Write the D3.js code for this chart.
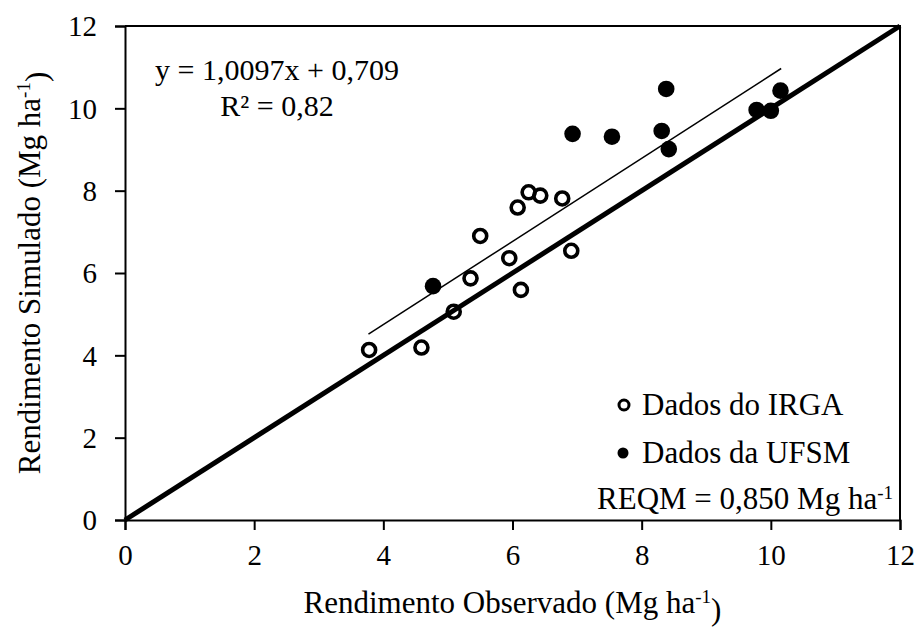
<!DOCTYPE html>
<html>
<head>
<meta charset="utf-8">
<script src="https://cdn.jsdelivr.net/npm/d3@7"></script>
<style>
  body { margin: 0; background: #fff; }
  text { font-family: "Liberation Serif", "Times New Roman", serif; fill: #000; }
</style>
</head>
<body>
<div id="vis"></div>
<script>
// observed vs simulated yield (Mg ha-1)
var irgaObs = [3.78, 4.59, 5.09, 5.35, 5.50, 5.95, 6.13, 6.08, 6.25, 6.43, 6.77, 6.91];
var irgaSim = [4.13, 4.19, 5.06, 5.87, 6.90, 6.36, 5.59, 7.59, 7.96, 7.88, 7.81, 6.54];
var ufsmObs = [4.77, 6.93, 7.54, 8.31, 8.38, 8.42, 9.78, 10.00, 10.15];
var ufsmSim = [5.68, 9.38, 9.31, 9.45, 10.47, 9.01, 9.96, 9.94, 10.43];

// linear fit shown on the chart
var slope = 1.0097, intercept = 0.709;
var fitRange = [3.77, 10.16];

var xTicks = [0, 2, 4, 6, 8, 10, 12];
var yTicks = [0, 2, 4, 6, 8, 10, 12];

var width = 918, height = 628;
var margin = { top: 26, left: 125, bottom: 108, right: 18 };
var w = width - margin.left - margin.right,
  h = height - margin.top - margin.bottom;

var svg = d3.select('#vis').append('svg')
  .attr('width', width)
  .attr('height', height);

var g = svg.append('g')
  .attr('transform', 'translate(' + margin.left + ',' + margin.top + ')');

var x = d3.scaleLinear().domain([0, 12]).range([0, w]);
var y = d3.scaleLinear().domain([0, 12]).range([h, 0]);

// frame (top + right)
g.append('path')
  .attr('d', 'M0,0H' + w + 'V' + h)
  .attr('fill', 'none')
  .attr('stroke', '#000')
  .attr('stroke-width', 2);

var xAxis = g.append('g')
  .attr('transform', 'translate(0,' + h + ')')
  .call(d3.axisBottom(x).tickValues(xTicks).tickSize(10).tickPadding(14));
var yAxis = g.append('g')
  .call(d3.axisLeft(y).tickValues(yTicks).tickSize(10).tickPadding(18));

[xAxis, yAxis].forEach(function(a) {
  a.attr('font-family', null);
  a.select('.domain').attr('stroke-width', 2);
  a.selectAll('.tick line').attr('stroke-width', 2);
  a.selectAll('.tick text')
    .style('font-family', '"Liberation Serif", serif')
    .style('font-size', '29px');
});
yAxis.selectAll('.tick text').attr('dy', '0.34em');

// 1:1 line
g.append('line')
  .attr('x1', x(0)).attr('y1', y(0))
  .attr('x2', x(12)).attr('y2', y(12))
  .attr('stroke', '#000')
  .attr('stroke-width', 5);

// trend line
g.append('line')
  .attr('x1', x(fitRange[0])).attr('y1', y(slope * fitRange[0] + intercept))
  .attr('x2', x(fitRange[1])).attr('y2', y(slope * fitRange[1] + intercept))
  .attr('stroke', '#000')
  .attr('stroke-width', 1.5);

// IRGA points (open)
g.append('g').selectAll('circle')
  .data(irgaObs)
  .enter()
  .append('circle')
  .attr('cx', function(d) { return x(d); })
  .attr('cy', function(d, i) { return y(irgaSim[i]); })
  .attr('r', 6.5)
  .attr('fill', 'none')
  .attr('stroke', '#000')
  .attr('stroke-width', 3.6);

// UFSM points (filled)
g.append('g').selectAll('circle')
  .data(ufsmObs)
  .enter()
  .append('circle')
  .attr('cx', function(d) { return x(d); })
  .attr('cy', function(d, i) { return y(ufsmSim[i]); })
  .attr('r', 8.3)
  .attr('fill', '#000');

// equation
g.append('text')
  .attr('x', 152).attr('y', 54)
  .attr('text-anchor', 'middle')
  .style('font-size', '30px')
  .text('y = 1,0097x + 0,709');
g.append('text')
  .attr('x', 152).attr('y', 90)
  .attr('text-anchor', 'middle')
  .style('font-size', '30px')
  .text('R² = 0,82');

// legend
g.append('circle')
  .attr('cx', 499).attr('cy', 379)
  .attr('r', 5).attr('fill', 'none')
  .attr('stroke', '#000').attr('stroke-width', 3);
g.append('text')
  .attr('x', 517).attr('y', 389)
  .style('font-size', '31px')
  .text('Dados do IRGA');
g.append('circle')
  .attr('cx', 498).attr('cy', 427)
  .attr('r', 5.5).attr('fill', '#000');
g.append('text')
  .attr('x', 517).attr('y', 437)
  .style('font-size', '31px')
  .text('Dados da UFSM');

var reqm = g.append('text')
  .attr('x', 768).attr('y', 483)
  .attr('text-anchor', 'end')
  .style('font-size', '31px');
reqm.append('tspan').text('REQM = 0,850 Mg ha');
reqm.append('tspan').attr('dy', '-0.55em').style('font-size', '19px').text('-1');

// axis titles
var xt = svg.append('text')
  .attr('x', margin.left + w / 2).attr('y', 613)
  .attr('text-anchor', 'middle')
  .style('font-size', '31px');
xt.append('tspan').text('Rendimento Observado (Mg ha');
xt.append('tspan').attr('dy', '-0.55em').style('font-size', '19px').text('-1');
xt.append('tspan').attr('dy', '0.55em').text(')');

var yt = svg.append('text')
  .attr('transform', 'translate(40,' + (margin.top + h / 2) + ') rotate(-90)')
  .attr('text-anchor', 'middle')
  .style('font-size', '31px');
yt.append('tspan').text('Rendimento Simulado (Mg ha');
yt.append('tspan').attr('dy', '-0.55em').style('font-size', '19px').text('-1');
yt.append('tspan').attr('dy', '0.55em').text(')');
</script>
</body>
</html>
